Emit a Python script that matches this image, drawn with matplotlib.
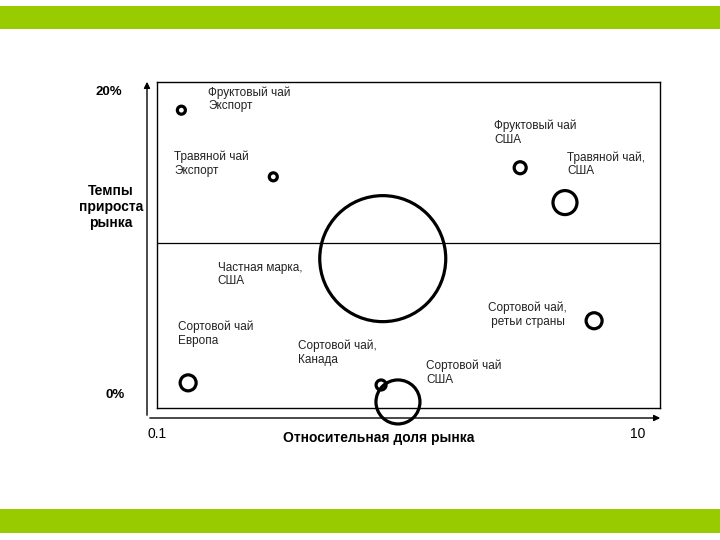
import matplotlib
matplotlib.use("Agg")
import matplotlib.pyplot as plt
import numpy as np
from matplotlib.patches import Rectangle

plt.rcParams['font.family'] = ['Liberation Sans', 'DejaVu Sans']

# BCG matrix data: relative market share (log), market growth (%), sales volume
names = [
    'Фруктовый чай\nЭкспорт',
    'Травяной чай\nЭкспорт',
    'Фруктовый чай\nСША',
    'Травяной чай,\nСША',
    'Частная марка,\nСША',
    'Сортовой чай\nЕвропа',
    'Сортовой чай,\nКанада',
    'Сортовой чай\nСША',
    'Сортовой чай,\n ретьи страны',
]
share = [0.125, 0.29, 2.78, 4.19, 0.79, 0.133, 0.778, 0.908, 5.47]
growth = [18.8, 14.4, 15.0, 12.7, 9.0, 0.8, 0.66, -0.46, 4.9]
sales = [16, 16, 36, 144, 3969, 64, 25, 484, 64]

# label offsets from bubble centre (px, right/down)
label_dx = [27, -99, -26, 2, -165, -10, -83, 28, -106]
label_dy = [-24, -26, -48, -51, 3, -62, -45, -42, -19]

W, H = 720, 540
fig = plt.figure(figsize=(7.2, 5.4), dpi=100)
PT = 0.72  # points per pixel


def fx(px):
    return px / W


def fy(py):
    return 1 - py / H


# green bars
green = '#99cc00'
fig.add_artist(Rectangle((0, fy(29)), 1, 23 / H, transform=fig.transFigure,
                         color=green, lw=0))
fig.add_artist(Rectangle((0, fy(533)), 1, 24 / H, transform=fig.transFigure,
                         color=green, lw=0))

# plot box
ax = fig.add_axes([fx(157), fy(408), 503 / W, 326 / H])
ax.set_xscale('log')
ax.set_xlim(0.1, 10)
ax.set_ylim(-0.86, 20.66)
ax.set_xticks([])
ax.set_yticks([])
ax.minorticks_off()
for sp in ax.spines.values():
    sp.set_linewidth(1.0)
ax.axhline(10, color='black', lw=0.9)

sizes = [(2 * np.sqrt(v) * PT) ** 2 for v in sales]
ax.scatter(share, growth, s=sizes, facecolors='none', edgecolors='black',
           linewidths=2.3, clip_on=False, zorder=3)

for name, x, y, dx, dy in zip(names, share, growth, label_dx, label_dy):
    ax.annotate(name, (x, y), xytext=(dx * PT, -dy * PT),
                textcoords='offset points', ha='left', va='top',
                fontsize=8.5, color='#222222', linespacing=1.15)

# outer axis arrows
fig.add_artist(plt.matplotlib.patches.FancyArrowPatch(
    (fx(147), fy(418)), (fx(147), fy(79)), transform=fig.transFigure,
    arrowstyle='-|>', mutation_scale=9, lw=1.0, color='black'))
fig.add_artist(plt.matplotlib.patches.FancyArrowPatch(
    (fx(147), fy(418)), (fx(663), fy(418)), transform=fig.transFigure,
    arrowstyle='-|>', mutation_scale=9, lw=1.0, color='black'))

# axis texts
fig.text(fx(109), fy(92), '20%', ha='center', va='center', fontsize=9.5,
         fontweight='bold')
fig.text(fx(115), fy(395), '0%', ha='center', va='center', fontsize=9.5,
         fontweight='bold')
fig.text(fx(111), fy(207), 'Темпы\nприроста\nрынка', ha='center',
         va='center', fontsize=10, fontweight='bold', linespacing=1.2)
fig.text(fx(157), fy(434), '0.1', ha='center', va='center', fontsize=10)
fig.text(fx(638), fy(434), '10', ha='center', va='center', fontsize=10)
fig.text(fx(379), fy(438), 'Относительная доля рынка', ha='center',
         va='center', fontsize=10, fontweight='bold')

fig.savefig('out.png', dpi=100)
